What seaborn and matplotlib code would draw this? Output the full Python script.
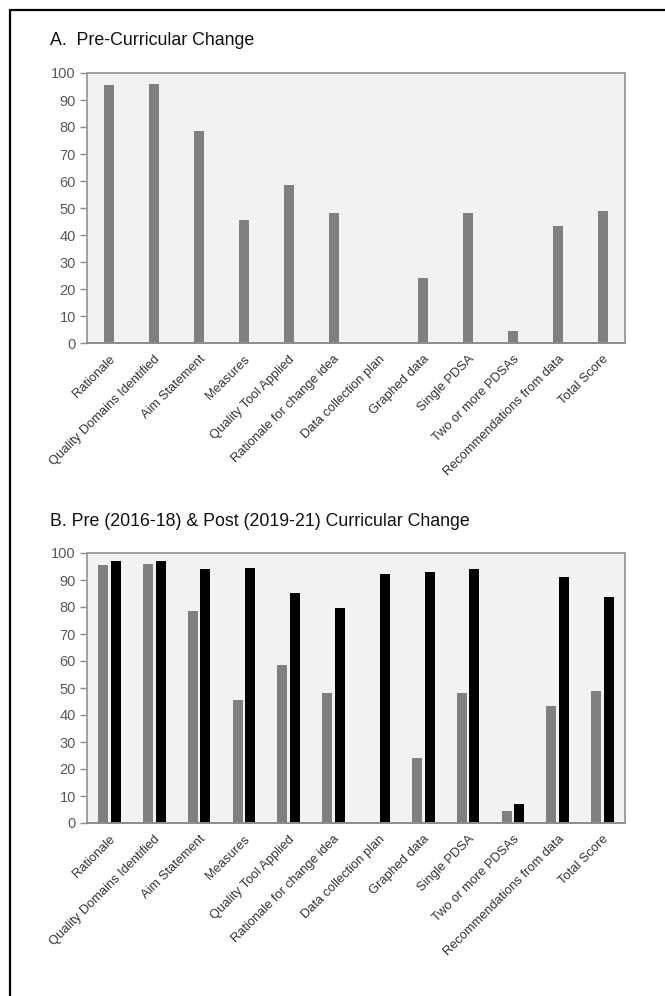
import numpy as np
import pandas as pd
import matplotlib.pyplot as plt
import seaborn as sns
from matplotlib.lines import Line2D

sns.set_style("white")
plt.rcParams['font.family'] = ['Liberation Sans', 'DejaVu Sans']

# data
categories = ["Rationale", "Quality Domains Identified", "Aim Statement", "Measures",
              "Quality Tool Applied", "Rationale for change idea", "Data collection plan",
              "Graphed data", "Single PDSA", "Two or more PDSAs",
              "Recommendations from data", "Total Score"]
pre = [95.5, 95.8, 78.5, 45.5, 58.5, 48.0, 0.0, 24.0, 48.0, 4.5, 43.5, 49.0]
post = [97.2, 97.2, 94.0, 94.5, 85.3, 79.5, 92.3, 93.0, 94.0, 7.0, 91.0, 83.8]
periods = ["Pre (2016-18)", "Post (2019-21)"]

df_a = pd.DataFrame({"item": categories, "score": pre})
df_b = pd.DataFrame({
    "item": categories * 2,
    "score": pre + post,
    "period": [periods[0]] * len(categories) + [periods[1]] * len(categories),
})

fig = plt.figure(figsize=(6.65, 9.96), dpi=100)
W, H = 665, 996

def px_axes(left, top, right, bottom):
    return fig.add_axes([left / W, 1 - bottom / H, (right - left) / W, (bottom - top) / H])

ax_a = px_axes(87, 73, 625, 343)
ax_b = px_axes(87, 553, 625, 823)

sns.barplot(data=df_a, x="item", y="score", color="#808080", width=0.22,
            linewidth=0, saturation=1, errorbar=None, ax=ax_a)
sns.barplot(data=df_b, x="item", y="score", hue="period",
            palette=["#808080", "#000000"], width=0.56, gap=0.2,
            linewidth=0, saturation=1, errorbar=None, legend=False, ax=ax_b)

for ax in (ax_a, ax_b):
    ax.set_facecolor("#f2f2f2")
    ax.set_ylim(0, 100)
    ax.set_xlim(-0.5, len(categories) - 0.5)
    ax.set_yticks(np.arange(0, 101, 10))
    ax.set_xlabel("")
    ax.set_ylabel("")
    for s in ax.spines.values():
        s.set_visible(True)
        s.set_color("#a0a0a0")
        s.set_linewidth(1.4)
    ax.spines["bottom"].set_color("#8c8c8c")
    ax.tick_params(axis="y", left=True, length=5, width=1, color="#8c8c8c",
                   labelsize=10.5, labelcolor="#595959", pad=3)
    ax.tick_params(axis="x", bottom=False, labelsize=9.3, labelcolor="#333333", pad=4)
    ax.set_xticks(range(len(categories)))
    ax.set_xticklabels(categories, rotation=45, ha="right", rotation_mode="anchor")

fig.text(50 / W, 1 - 40 / H, "A.  Pre-Curricular Change", fontsize=12.8,
         va="center", ha="left", color="#111111")
fig.text(50 / W, 1 - 521 / H, "B. Pre (2016-18) & Post (2019-21) Curricular Change",
         fontsize=12.8, va="center", ha="left", color="#111111")

# outer frame (left and top edges visible)
fig.add_artist(Line2D([10 / W, 10 / W], [0, 1 - 10 / H], color="black", linewidth=1.6))
fig.add_artist(Line2D([10 / W, 1], [1 - 10 / H, 1 - 10 / H], color="black", linewidth=1.6))

fig.savefig("out.png", dpi=100)
